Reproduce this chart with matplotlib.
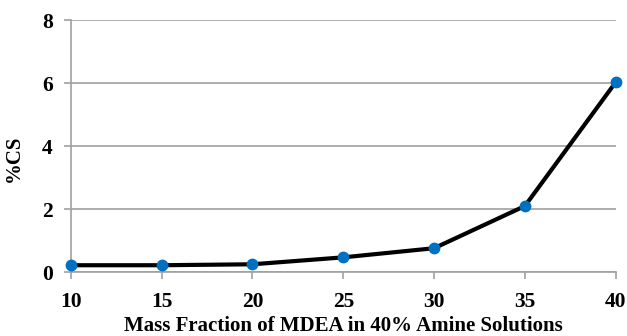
import matplotlib
matplotlib.use("Agg")
import matplotlib.pyplot as plt

# MDEA mass fraction (%) vs corrosion severity
mdea = [10, 15, 20, 25, 30, 35, 40]
cs = [0.22, 0.22, 0.25, 0.47, 0.76, 2.1, 6.03]

plt.rcParams['font.family'] = ['Liberation Serif', 'DejaVu Serif']
plt.rcParams['font.weight'] = 'bold'

fig = plt.figure(figsize=(6.27, 3.36), dpi=100)
ax = fig.add_axes([0.113, 0.19, 0.869, 0.75])

ax.plot(mdea, cs, color='black', lw=3, zorder=3)
ax.plot(mdea, cs, 'o', color='#0070C0', ms=7.5, zorder=4, clip_on=False)

ax.set_xlim(10, 40)
ax.set_ylim(0, 8)
ax.set_xticks(range(10, 41, 5))
ax.set_yticks(range(0, 9, 2))
ax.grid(axis='y', color='#A0A0A0', lw=1.2)
ax.set_axisbelow(True)

for s in ['top', 'right']:
    ax.spines[s].set_visible(False)
for s in ['left', 'bottom']:
    ax.spines[s].set_color('#A0A0A0')
    ax.spines[s].set_linewidth(1.2)
ax.tick_params(colors='#A0A0A0', width=1.2, length=5, labelcolor='black', labelsize=15.5)
ax.tick_params(axis='x', pad=9)
ax.tick_params(axis='y', pad=8)

ax.set_xlabel('Mass Fraction of MDEA in 40% Amine Solutions', fontsize=15, fontweight='bold', labelpad=3)
ax.set_ylabel('%CS', fontsize=15, fontweight='bold')
ax.yaxis.set_label_coords(-0.086, 0.45)

fig.savefig('out.png', dpi=100)
